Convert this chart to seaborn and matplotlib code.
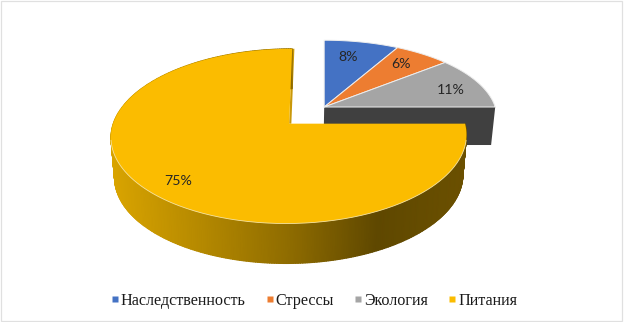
import numpy as np
import seaborn as sns
import matplotlib
matplotlib.use("Agg")
import matplotlib.pyplot as plt
from matplotlib.patches import Polygon
from matplotlib.lines import Line2D

categories = ["Наследственность", "Стрессы", "Экология", "Питания"]
values = [8, 6, 11, 75]
colors = ["#4472C4", "#ED7D31", "#A5A5A5", "#FBBC00"]

sns.set_theme(style="white")
plt.rcParams["font.family"] = ["Lato", "DejaVu Sans"]

W, H = 624, 322
fig = plt.figure(figsize=(W / 100, H / 100), dpi=100, facecolor="white")
ax = fig.add_axes([0, 0, 1, 1])

# Yellow slice is exploded; the three others keep the pie centre
CENTER = (0.198, 0.204)
wedges, _, autotexts = ax.pie(
    values, colors=colors, startangle=90, counterclock=False,
    explode=[0, 0, 0, 0.283], center=CENTER, radius=1.0,
    autopct="%.0f%%", pctdistance=0.75,
)
ax.set_aspect("auto")
ax.set_xlim(0, W)
ax.set_ylim(H, 0)
ax.set_axis_off()

XC, YC, RX, RY, K = 289.5, 124.0, 176.0, 85.7, 1 / 7
DEPTH, SHRINK = 40.0, 0.98
SQUASH = 0.94
SMALL_LEAN = 4.1
YELLOW_LEAN = 3.0


def project(pts, lean=0.0):
    pts = np.asarray(pts, float)
    u, v = pts[:, 0], pts[:, 1]
    d = 1 + K * v
    return np.column_stack([XC + RX * u / d + lean * v, YC - RY * v / d])


def lower(xy):
    return np.column_stack([XC + (xy[:, 0] - XC) * SHRINK, xy[:, 1] + DEPTH])


def arc_points(w, n=400):
    """Apex followed by the rim, in pie coordinates, taken from the wedge pie() made."""
    t = np.radians(np.linspace(w.theta1, w.theta2, n))
    cx, cy = w.center
    rim = np.column_stack([cx + w.r * np.cos(t), cy + w.r * np.sin(t)])
    return np.vstack([[cx, cy], rim])


wall_cmap = sns.blend_palette(["#D9A400", "#B58900", "#8F6C00", "#5F4800", "#6B5000"], as_cmap=True)

for w in wedges:
    w.set_visible(False)

EDGE = "#EDEDED"
small_apex = project([CENTER], SMALL_LEAN)[0]


def small_proj(pts):
    # the small slices sit further back: squashed a little about their apex
    xy = project(pts, SMALL_LEAN)
    xy[:, 1] = small_apex[1] + (xy[:, 1] - small_apex[1]) * SQUASH
    return xy


# dark cut wall under the small slices (radial edge at 3 o'clock)
grey = arc_points(wedges[2])
east = grey[np.argmax(grey[:, 0])]
edge_pts = small_proj([grey[0], east])
ax.add_patch(Polygon(np.vstack([edge_pts, (lower(edge_pts) + [0, -2])[::-1]]),
                     fc="#404040", ec="none", zorder=2))

for i in range(3):
    ax.add_patch(Polygon(small_proj(arc_points(wedges[i])), fc=colors[i], ec=EDGE, lw=0.7,
                         zorder=3, joinstyle="round"))

# yellow slice
top = project(arc_points(wedges[3]), YELLOW_LEAN)
if top[1, 1] > top[-1, 1]:  # make the rim run from 12 o'clock round to 3 o'clock
    top = np.vstack([top[0], top[:0:-1]])
rim = top[1:]
low = lower(rim)

# radial wall seen at the notch
strip = np.array([top[0], top[1], top[1] + [2.2, 0], top[0] + [2.2, 0]])
ax.add_patch(Polygon(strip, fc="#C9980A", ec="none", zorder=4))

# outer wall with its left-to-right shading
shade = np.clip((rim[:, 0] - 111) / (468 - 111), 0, 1)
ax.pcolormesh(np.vstack([rim[:, 0], low[:, 0]]), np.vstack([rim[:, 1], low[:, 1]]),
              np.vstack([shade, shade]), shading="gouraud", cmap=wall_cmap, vmin=0, vmax=1, zorder=5)
ax.set_xlim(0, W)
ax.set_ylim(H, 0)

ax.add_patch(Polygon(top, fc=colors[3], ec="none", zorder=6))
front = rim[:, 1] > 140
ax.plot(rim[front, 0], rim[front, 1], color="#F6E3A0", lw=0.6, zorder=7)

nudges = [(-1, 3), (4, 0), (12, 3), (-10, 8)]
for t, (dx, dy) in zip(autotexts, nudges):
    p = project([t.get_position()])[0]
    t.set_position((p[0] + dx, p[1] + dy))
    t.set(fontsize=10.2, color="#262626", ha="center", va="center", zorder=10)

handles = [Line2D([], [], ls="none", marker="s", ms=3.8, mfc=c, mec="none") for c in colors]
leg = ax.legend(handles, categories, ncol=4, loc="center", bbox_to_anchor=(314 / W, 1 - 301 / H),
                bbox_transform=fig.transFigure, frameon=False, handlelength=0.5, handletextpad=0.12,
                columnspacing=1.25, prop={"family": "Liberation Serif", "size": 11.6}, labelcolor="#1a1a1a")
for t in leg.get_texts():
    t.set_fontfamily("Liberation Serif")

# faint outer frame
fig.add_artist(plt.Rectangle((0.9 / W, 1 - 320.5 / H), 621.5 / W, 319.8 / H, transform=fig.transFigure,
                             fill=False, ec="#E0E0E0", lw=0.9))

fig.savefig("out.png", dpi=100, facecolor="white")
